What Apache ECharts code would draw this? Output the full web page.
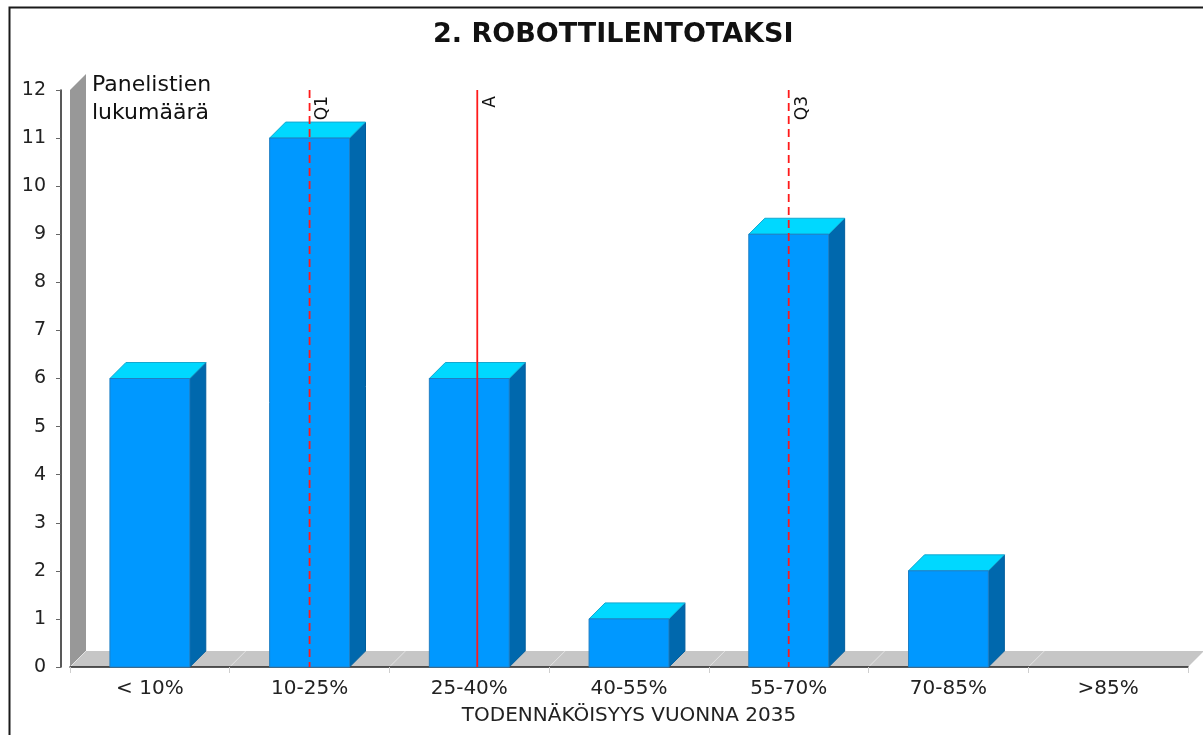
<!DOCTYPE html>
<html>
<head>
<meta charset="utf-8">
<script src="https://cdn.jsdelivr.net/npm/echarts@6/dist/echarts.min.js"></script>
<style>
html,body{margin:0;padding:0;background:#fff;}
#chart{width:1203px;height:735px;}
</style>
</head>
<body>
<div id="chart"></div>
<script>
// ---- data ----
const categories = ['< 10%', '10-25%', '25-40%', '40-55%', '55-70%', '70-85%', '>85%'];
const counts = [6, 11, 6, 1, 9, 2, 0];
const markerNames = ['Q1', 'A', 'Q3'];
const markerPositions = [1, 2.05, 4];   // in category-index units
const markerDashed = [true, false, true];
const yMin = 0, yMax = 12, yInterval = 1;
const titleText = '2. ROBOTTILENTOTAKSI';
const xAxisName = 'TODENNÄKÖISYYS VUONNA 2035';
const yAxisName = 'Panelistien\nlukumäärä';

// ---- style ----
const DX = 16, DY = 16;
const FONT = '"DejaVu Sans", Verdana, sans-serif';

const chart = echarts.init(document.getElementById('chart'), null, {renderer: 'canvas'});

const barData = categories.map((c, i) => [i, counts[i]]);
const markerData = markerPositions.map((p, i) => [p, i]);

function renderFrame(params, api) {
  const a = api.coord([-0.5, yMin]);
  const b = api.coord([categories.length - 0.5, yMin]);
  const c = api.coord([-0.5, yMax]);
  const children = [
    {type: 'polygon', shape: {points: [[a[0], a[1]], [a[0], c[1]], [a[0] + DX, c[1] - DY], [a[0] + DX, a[1] - DY]]},
     style: {fill: '#989898'}},
    {type: 'polygon', shape: {points: [[a[0], a[1]], [a[0] + DX, a[1] - DY], [b[0] + DX, b[1] - DY], [b[0], b[1]]]},
     style: {fill: '#c6c6c6'}}
  ];
  for (let k = 0; k <= categories.length; k++) {
    const p = api.coord([k - 0.5, yMin]);
    children.push({type: 'line', shape: {x1: p[0], y1: p[1], x2: p[0] + DX, y2: p[1] - DY},
      style: {stroke: '#e4e4e4', lineWidth: 1}});
  }
  return {type: 'group', children};
}

function renderBar(params, api) {
  const i = api.value(0), v = api.value(1);
  if (!v) return null;
  const p0 = api.coord([i - 0.25, v]);
  const p1 = api.coord([i + 0.25, yMin]);
  const x0 = p0[0], x1 = p1[0], yt = p0[1], yb = p1[1];
  return {
    type: 'group',
    children: [
      {type: 'polygon', shape: {points: [[x1, yt], [x1 + DX, yt - DY], [x1 + DX, yb - DY], [x1, yb]]},
       style: {fill: '#0068ad', stroke: '#005d9c', lineWidth: 1}},
      {type: 'polygon', shape: {points: [[x0, yt], [x0 + DX, yt - DY], [x1 + DX, yt - DY], [x1, yt]]},
       style: {fill: '#00d8ff', stroke: '#14a8d0', lineWidth: 1}},
      {type: 'rect', shape: {x: x0, y: yt, width: x1 - x0, height: yb - yt},
       style: {fill: '#0098ff', stroke: '#1f7fc4', lineWidth: 1}}
    ]
  };
}

function renderMarker(params, api) {
  const pos = api.value(0), idx = api.value(1);
  const top = api.coord([pos, yMax]);
  const bot = api.coord([pos, yMin]);
  return {
    type: 'group',
    children: [
      {type: 'line', shape: {x1: top[0], y1: top[1], x2: bot[0], y2: bot[1]},
       style: {stroke: '#ff1a1a', lineWidth: 1.8, lineDash: markerDashed[idx] ? [8, 5] : null}},
      {type: 'text', x: top[0] + 5, y: top[1] + 6, rotation: Math.PI / 2,
       style: {text: markerNames[idx], fill: '#111', font: '17px ' + FONT, align: 'right', verticalAlign: 'top'}}
    ]
  };
}

const option = {
  backgroundColor: '#fff',
  animation: false,
  title: {
    text: titleText,
    left: 428, top: 16,
    textStyle: {fontFamily: FONT, fontSize: 27, fontWeight: 'bold', color: '#111'}
  },
  grid: {left: 70, right: 15, top: 90, bottom: 68, containLabel: false},
  xAxis: [
    {
      type: 'category', data: categories, boundaryGap: true,
      axisLine: {show: true, onZero: false, lineStyle: {color: '#222', width: 1.5}},
      axisTick: {show: true, length: 6, lineStyle: {color: '#cfcfcf'}},
      axisLabel: {fontFamily: FONT, fontSize: 20, color: '#222', margin: 12},
      splitLine: {show: false},
      name: xAxisName, nameLocation: 'middle', nameGap: 39,
      nameTextStyle: {fontFamily: FONT, fontSize: 20, color: '#222'}
    },
    {type: 'value', min: -0.5, max: categories.length - 0.5, show: false,
     axisLine: {onZero: false}}
  ],
  yAxis: {
    type: 'value', min: yMin, max: yMax, interval: yInterval, offset: 9,
    axisLine: {show: true, onZero: false, lineStyle: {color: '#222', width: 1.5}},
    axisTick: {show: true, length: 5, lineStyle: {color: '#666'}},
    axisLabel: {fontFamily: FONT, fontSize: 19, color: '#222', margin: 15},
    splitLine: {show: false}
  },
  graphic: [
    {type: 'rect', left: 7, top: 5, z: 100, silent: true,
     shape: {width: 1202, height: 745}, style: {fill: null, stroke: '#1a1a1a', lineWidth: 2}},
    {type: 'text', left: 92, top: 71, z: 100,
     style: {text: yAxisName, font: '22px ' + FONT, fill: '#111', lineHeight: 28}}
  ],
  series: [
    {type: 'custom', xAxisIndex: 1, z: -1, data: [[0, 0]], renderItem: renderFrame, silent: true},
    {type: 'custom', xAxisIndex: 1, z: 2, data: barData, renderItem: renderBar, encode: {x: 0, y: 1}},
    {type: 'custom', xAxisIndex: 1, z: 5, data: markerData, renderItem: renderMarker, encode: {x: 0}}
  ]
};
chart.setOption(option);
</script>
</body>
</html>
